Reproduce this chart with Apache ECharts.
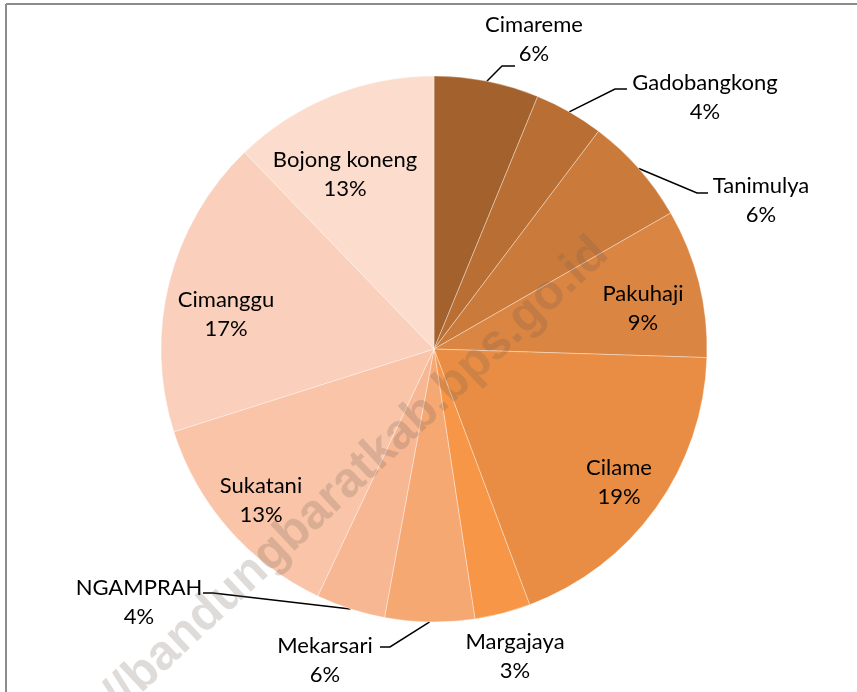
<!DOCTYPE html>
<html>
<head>
<meta charset="utf-8">
<title>Pie</title>
<script src="https://cdn.jsdelivr.net/npm/echarts@6/dist/echarts.min.js"></script>
<style>
  html, body { margin: 0; padding: 0; background: #fff; }
  #chart { width: 857px; height: 692px; }
</style>
</head>
<body>
<div id="chart"></div>
<script>
// data (slice shares in %, labels as printed)
const districts = ['Cimareme', 'Gadobangkong', 'Tanimulya', 'Pakuhaji', 'Cilame', 'Margajaya',
  'Mekarsari', 'NGAMPRAH', 'Sukatani', 'Cimanggu', 'Bojong koneng']
const shares = [6.2, 4.1, 6.4, 8.8, 18.8, 3.3, 5.3, 4.1, 13.1, 17.7, 12.2]
const shareLabels = ['6%', '4%', '6%', '9%', '19%', '3%', '6%', '4%', '13%', '17%', '13%']

const sliceColors = ['#a3622d', '#b96f33', '#ca7b3b', '#da8542', '#e88d43', '#f79646',
  '#f6a872', '#f7b792', '#f9c4a8', '#facfbb', '#fbdccd']

// where each label sits (text centre), and the elbow of its leader line if it has one
const labelSpots = [
  { x: 534, y: 39, hook: [[502, 66], [515, 66]] },
  { x: 705, y: 97, hook: [[615, 89], [627, 89]] },
  { x: 761, y: 200, hook: [[697, 193], [708, 193]] },
  { x: 643, y: 308 },
  { x: 619, y: 482 },
  { x: 515, y: 656 },
  { x: 325, y: 660, hook: [[390, 647], [380, 647]] },
  { x: 139, y: 602, hook: [[213, 593], [203, 593]] },
  { x: 261, y: 500 },
  { x: 226, y: 314 },
  { x: 345, y: 174 }
]
const outsideLabels = ['Cimareme', 'Gadobangkong', 'Tanimulya', 'Margajaya', 'Mekarsari', 'NGAMPRAH']

const chart = echarts.init(document.getElementById('chart'))

const pieData = districts.map((name, i) => {
  const outside = outsideLabels.indexOf(name) >= 0
  return {
    name: name,
    value: shares[i],
    itemStyle: { color: sliceColors[i] },
    label: { position: outside ? 'outside' : 'inside' },
    labelLine: { show: outside && !!labelSpots[i].hook }
  }
})

const option = {
  backgroundColor: '#fff',
  animation: false,
  graphic: [
    // frame lines
    { type: 'line', shape: { x1: 6, y1: 4, x2: 857, y2: 4 }, style: { stroke: '#8c8c8c', lineWidth: 2 }, z: 10 },
    { type: 'line', shape: { x1: 6, y1: 4, x2: 6, y2: 692 }, style: { stroke: '#8c8c8c', lineWidth: 2 }, z: 10 },
    // watermark
    {
      type: 'text',
      x: 618,
      y: 264,
      rotation: 43 * Math.PI / 180,
      z: 100,
      silent: true,
      style: {
        text: 'https://bandungbaratkab.bps.go.id',
        font: 'bold 49px "Liberation Sans"',
        fill: 'rgba(110, 90, 80, 0.22)',
        align: 'right',
        verticalAlign: 'bottom'
      }
    }
  ],
  series: [
    {
      type: 'pie',
      center: [434, 349],
      radius: 273,
      startAngle: 90,
      clockwise: true,
      avoidLabelOverlap: false,
      itemStyle: {
        borderColor: 'rgba(255,255,255,0.35)',
        borderWidth: 1
      },
      label: {
        color: '#000',
        fontFamily: 'Lato',
        fontSize: 22,
        lineHeight: 29,
        formatter: p => p.name + '\n' + shareLabels[p.dataIndex]
      },
      labelLine: {
        lineStyle: { color: '#000', width: 1.5 }
      },
      labelLayout: function (params) {
        const spot = labelSpots[params.dataIndex]
        const res = { x: spot.x, y: spot.y, align: 'center', verticalAlign: 'middle' }
        if (spot.hook && params.labelLinePoints) {
          res.labelLinePoints = [params.labelLinePoints[0], spot.hook[0], spot.hook[1]]
        }
        return res
      },
      emphasis: { disabled: true },
      data: pieData
    }
  ]
}

chart.setOption(option)
</script>
</body>
</html>
